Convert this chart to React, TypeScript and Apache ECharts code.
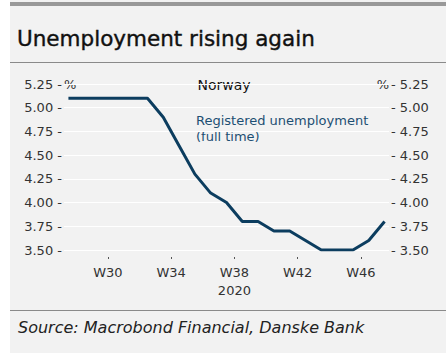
import React, { useEffect, useRef } from "react";
import * as echarts from "echarts";

const weeks = [27.5, 28.5, 29.5, 30.5, 31.5, 32.5, 33.5, 34.5, 35.5, 36.5, 37.5, 38.5, 39.5, 40.5, 41.5, 42.5, 43.5, 44.5, 45.5, 46.5, 47.5];
const unemployment = [5.1, 5.1, 5.1, 5.1, 5.1, 5.1, 4.9, 4.6, 4.3, 4.1, 4.0, 3.8, 3.8, 3.7, 3.7, 3.6, 3.5, 3.5, 3.5, 3.6, 3.8];
const weekTicks = [30, 34, 38, 42, 46];

const FONT = "'DejaVu Sans', sans-serif";
const TXT = "#333333";

export default function App() {
  const ref = useRef<HTMLDivElement>(null);
  useEffect(() => {
    if (!ref.current) return;
    const chart = echarts.init(ref.current, undefined, { renderer: "svg" });
    const yAxisCommon = {
      type: "value" as const,
      min: 3.5,
      max: 5.25,
      interval: 0.25,
      axisLine: { show: false },
      axisTick: { show: false },
      splitLine: { show: true, lineStyle: { color: "#ffffff", width: 1 } },
    };
    chart.setOption({
      animation: false,
      backgroundColor: "transparent",
      graphic: [
        { type: "rect", shape: { x: 10, y: 0, width: 436, height: 353 }, style: { fill: "#f2f2f2" }, z: -10 },
        { type: "rect", shape: { x: 10, y: 2, width: 436, height: 4 }, style: { fill: "#999999" } },
        { type: "rect", shape: { x: 10, y: 62, width: 436, height: 1 }, style: { fill: "#8a8a8a" } },
        { type: "rect", shape: { x: 10, y: 310, width: 436, height: 1 }, style: { fill: "#8a8a8a" } },
        {
          type: "text", x: 17, y: 38,
          style: { text: "Unemployment rising again", font: `21.5px ${FONT}`, fill: "#111111", stroke: "#111111", lineWidth: 0.4, verticalAlign: "middle" },
        },
        {
          type: "text", x: 18, y: 327,
          style: { text: "Source: Macrobond Financial, Danske Bank", font: `italic 16px ${FONT}`, fill: "#222222", verticalAlign: "middle" },
        },
        { type: "text", x: 64, y: 84, style: { text: "%", font: `13px ${FONT}`, fill: TXT, verticalAlign: "middle" } },
        { type: "text", x: 389, y: 84, style: { text: "%", font: `13px ${FONT}`, fill: TXT, verticalAlign: "middle", align: "right" } },
        { type: "text", x: 224, y: 85, style: { text: "Norway", font: `14px ${FONT}`, fill: "#111111", verticalAlign: "middle", align: "center" } },
        {
          type: "text", x: 196, y: 128,
          style: { text: "Registered unemployment\n(full time)", font: `13px ${FONT}`, lineHeight: 16, fill: "#1d4f73", verticalAlign: "middle" },
        },
      ],
      grid: { left: 64, right: 57, top: 84, bottom: 103, containLabel: false },
      xAxis: {
        type: "value",
        min: 27.22,
        max: 47.78,
        offset: 9,
        axisLine: { show: false },
        axisTick: { show: true, customValues: weekTicks, length: 2, inside: true, lineStyle: { color: "#555555" } },
        splitLine: { show: false },
        axisLabel: {
          customValues: weekTicks,
          formatter: (v: number) => (v === 38 ? "W38\n2020" : "W" + v),
          color: TXT,
          fontSize: 13,
          fontFamily: FONT,
          lineHeight: 18,
          margin: 4,
        },
      },
      yAxis: [
        {
          ...yAxisCommon,
          position: "left",
          axisLabel: { formatter: (v: number) => v.toFixed(2) + " -", color: TXT, fontSize: 13, fontFamily: FONT, margin: 2 },
        },
        {
          ...yAxisCommon,
          position: "right",
          splitLine: { show: false },
          axisLabel: { formatter: (v: number) => "- " + v.toFixed(2), color: TXT, fontSize: 13, fontFamily: FONT, margin: 2 },
        },
      ],
      series: [
        {
          type: "line",
          data: weeks.map((w, i) => [w, unemployment[i]]),
          showSymbol: false,
          lineStyle: { color: "#0c3d5f", width: 3 },
          itemStyle: { color: "#0c3d5f" },
        },
      ],
    });
    return () => chart.dispose();
  }, []);
  return <div ref={ref} style={{ position: "absolute", left: 0, top: 0, width: 446, height: 353 }} />;
}
